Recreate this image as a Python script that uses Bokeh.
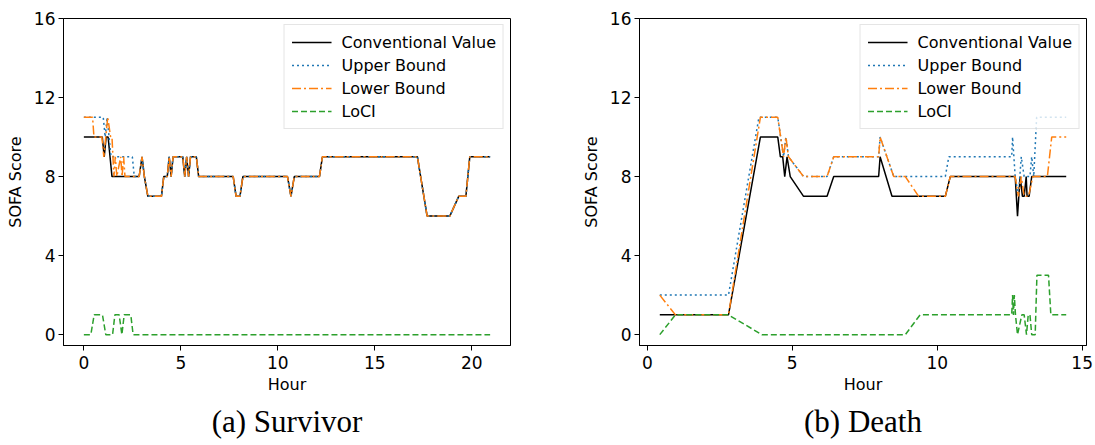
from bokeh.plotting import figure
from bokeh.layouts import row
from bokeh.models import Range1d, FixedTicker, Legend, LegendItem, Title
from bokeh.embed import file_html
from bokeh.resources import INLINE

# ---------------- data: (a) Survivor ----------------
surv_conv_h = [0, 0.95, 1.05, 1.15, 1.25, 1.35, 1.45, 2.85, 3.0, 3.12, 3.3, 4.0, 4.12, 4.3, 4.4, 4.5,
               4.6, 5.1, 5.2, 5.3, 5.4, 5.5, 5.8, 5.92, 7.7, 7.85, 8.05, 8.2, 10.5, 10.68, 10.85,
               12.15, 12.3, 17.2, 17.7, 18.87, 19.33, 19.7, 19.9, 20.95]
surv_conv_v = [10, 10, 9, 10, 10, 9, 8, 8, 9, 8, 7, 7, 8, 8, 9, 8,
               9, 9, 8, 9, 8, 9, 9, 8, 8, 7, 7, 8, 8, 7, 8,
               8, 9, 9, 6, 6, 7, 7, 9, 9]

surv_upper_h = [0, 1.0, 1.1, 1.2, 1.3, 1.4, 2.5, 2.6, 2.85, 3.0, 3.12, 3.3, 4.0, 4.12, 4.3, 4.4, 4.5,
                4.6, 5.1, 5.2, 5.3, 5.4, 5.5, 5.8, 5.92, 7.7, 7.85, 8.05, 8.2, 10.5, 10.68, 10.85,
                12.15, 12.3, 17.2, 17.7, 18.87, 19.33, 19.7, 19.9, 20.95]
surv_upper_v = [11, 11, 10, 11, 10, 9, 9, 8, 8, 9, 8, 7, 7, 8, 8, 9, 8,
                9, 9, 8, 9, 8, 9, 9, 8, 8, 7, 7, 8, 8, 7, 8,
                8, 9, 9, 6, 6, 7, 7, 9, 9]

surv_lower_h = [0, 0.45, 0.52, 0.93, 1.03, 1.23, 1.38, 1.45, 1.55, 1.62, 1.7, 1.9, 1.97, 2.05, 2.12,
                2.2, 2.85, 3.0, 3.12, 3.3, 4.0, 4.12, 4.3, 4.4, 4.5,
                4.6, 5.1, 5.2, 5.3, 5.4, 5.5, 5.8, 5.92, 7.7, 7.85, 8.05, 8.2, 10.5, 10.68, 10.85,
                12.15, 12.3, 17.2, 17.7, 18.87, 19.33, 19.7, 19.9, 20.95]
surv_lower_v = [11, 11, 10, 10, 9, 11, 10, 10, 8, 9, 8, 9, 8, 9, 8,
                8, 8, 9, 8, 7, 7, 8, 8, 9, 8,
                9, 9, 8, 9, 8, 9, 9, 8, 8, 7, 7, 8, 8, 7, 8,
                8, 9, 9, 6, 6, 7, 7, 9, 9]

surv_loci_h = [0, 0.36, 0.53, 0.96, 1.13, 1.48, 1.6, 1.82, 1.96, 2.08, 2.42, 2.54, 20.95]
surv_loci_v = [0, 0, 1, 1, 0, 0, 1, 1, 0, 1, 1, 0, 0]

# ---------------- data: (b) Death ----------------
death_conv_h = [0.43, 2.8, 3.9, 4.5, 4.59, 4.67, 4.74, 4.82, 4.93, 5.39, 6.2, 6.43, 7.98, 8.03, 8.44,
                10.28, 10.45, 12.69, 12.77, 12.86, 12.94, 13.0, 13.07, 13.1, 13.17, 13.26, 14.45]
death_conv_v = [1, 1, 10, 10, 9, 9, 8, 9, 8, 7, 7, 8, 8, 9, 7,
                7, 8, 8, 6, 8, 7, 7, 8, 7, 7, 8, 8]

death_upper_h = [0.43, 2.8, 3.85, 4.5, 4.7, 4.78, 4.87, 5.39, 6.2, 6.43, 7.98, 8.03, 8.5, 10.28, 10.4,
                 12.57, 12.6, 12.69, 12.8, 12.9, 13.0, 13.2, 13.26, 13.33, 13.43, 14.45]
death_upper_v = [2, 2, 11, 11, 9, 10, 9, 8, 8, 9, 9, 10, 8, 8, 9,
                 9, 10, 8, 7, 9, 8, 8, 9, 8, 11, 11]

death_lower_h = [0.43, 0.97, 2.8, 3.9, 4.5, 4.7, 4.78, 4.87, 5.39, 6.2, 6.43, 7.98, 8.03, 8.5, 8.9,
                 9.36, 10.28, 10.45, 12.69, 12.8, 12.9, 13.0, 13.15, 13.3, 13.8, 13.95, 14.45]
death_lower_v = [2, 1, 1, 11, 11, 9, 10, 9, 8, 8, 9, 9, 10, 8, 8,
                 7, 7, 8, 8, 7, 8, 7, 7, 8, 8, 10, 10]

death_loci_h = [0.43, 0.97, 2.8, 3.95, 8.9, 9.41, 12.57, 12.6, 12.63, 12.66, 12.7, 12.77, 12.92, 13.0,
                13.08, 13.14, 13.2, 13.26, 13.38, 13.44, 13.84, 13.92, 14.45]
death_loci_v = [0, 1, 1, 0, 0, 1, 1, 2, 1, 2, 1, 0, 1, 1,
                0, 1, 1, 0, 0, 3, 3, 1, 1]

y_ticks = [0, 4, 8, 12, 16]
surv_x_ticks = [0, 5, 10, 15, 20]
death_x_ticks = [0, 5, 10, 15]
series_names = ["Conventional Value", "Upper Bound", "Lower Bound", "LoCI"]
series_colors = ["black", "#1f77b4", "#ff7f0e", "#2ca02c"]
series_dash = ["solid", "2 3", "9 3 2 3", "6 3"]


def make_panel(caption, xr, xticks, series, width, bl, br):
    p = figure(width=width, height=445, output_backend="svg", toolbar_location=None,
               x_range=Range1d(*xr), y_range=Range1d(-0.55, 16),
               min_border_left=bl, min_border_right=br, min_border_top=18, min_border_bottom=100)
    p.grid.visible = False
    p.outline_line_color = "black"
    p.outline_line_width = 1
    p.outline_line_alpha = 1
    p.background_fill_color = "white"
    p.border_fill_color = "white"
    items = []
    for (h, v), name, col, dash in zip(series, series_names, series_colors, series_dash):
        r = p.line(h, v, line_color=col, line_width=1.5, line_dash=dash)
        items.append(LegendItem(label=name, renderers=[r]))
    for ax in (p.xaxis[0], p.yaxis[0]):
        ax.major_label_text_font = "DejaVu Sans"
        ax.major_label_text_font_size = "17px"
        ax.axis_label_text_font = "DejaVu Sans"
        ax.axis_label_text_font_size = "16px"
        ax.axis_label_text_font_style = "normal"
        ax.minor_tick_line_color = None
        ax.major_tick_out = 5
        ax.major_tick_in = 0
        ax.axis_line_color = "black"
        ax.major_tick_line_color = "black"
        ax.major_label_text_color = "black"
        ax.axis_label_text_color = "black"
    p.xaxis.major_label_standoff = 5
    p.yaxis.major_label_standoff = 3
    p.xaxis.ticker = FixedTicker(ticks=xticks)
    p.yaxis.ticker = FixedTicker(ticks=y_ticks)
    p.xaxis.axis_label = "Hour"
    p.yaxis.axis_label = "SOFA Score"
    p.xaxis.axis_label_standoff = 3
    p.yaxis.axis_label_standoff = 6
    leg = Legend(items=items, location="top_right", label_text_font="DejaVu Sans",
                 label_text_font_size="16px", label_text_color="black",
                 glyph_width=40, glyph_height=20, label_height=20,
                 spacing=3, padding=7, margin=6, label_standoff=10,
                 border_line_color="#cccccc", border_line_width=1,
                 background_fill_color="white", background_fill_alpha=0.8)
    p.add_layout(leg)
    t = Title(text=caption, align="center", text_font="Liberation Serif",
              text_font_size="31px", text_font_style="normal", text_color="black", standoff=11)
    p.add_layout(t, "below")
    return p


p1 = make_panel("(a) Survivor", (-1.05, 22.0), surv_x_ticks,
                [(surv_conv_h, surv_conv_v), (surv_upper_h, surv_upper_v),
                 (surv_lower_h, surv_lower_v), (surv_loci_h, surv_loci_v)],
                575, 63, 65)
p2 = make_panel("(b) Death", (-0.27, 15.15), death_x_ticks,
                [(death_conv_h, death_conv_v), (death_upper_h, death_upper_v),
                 (death_lower_h, death_lower_v), (death_loci_h, death_loci_v)],
                520, 64, 9)

layout = row(p1, p2)
open("out.html", "w").write(file_html(layout, INLINE))
